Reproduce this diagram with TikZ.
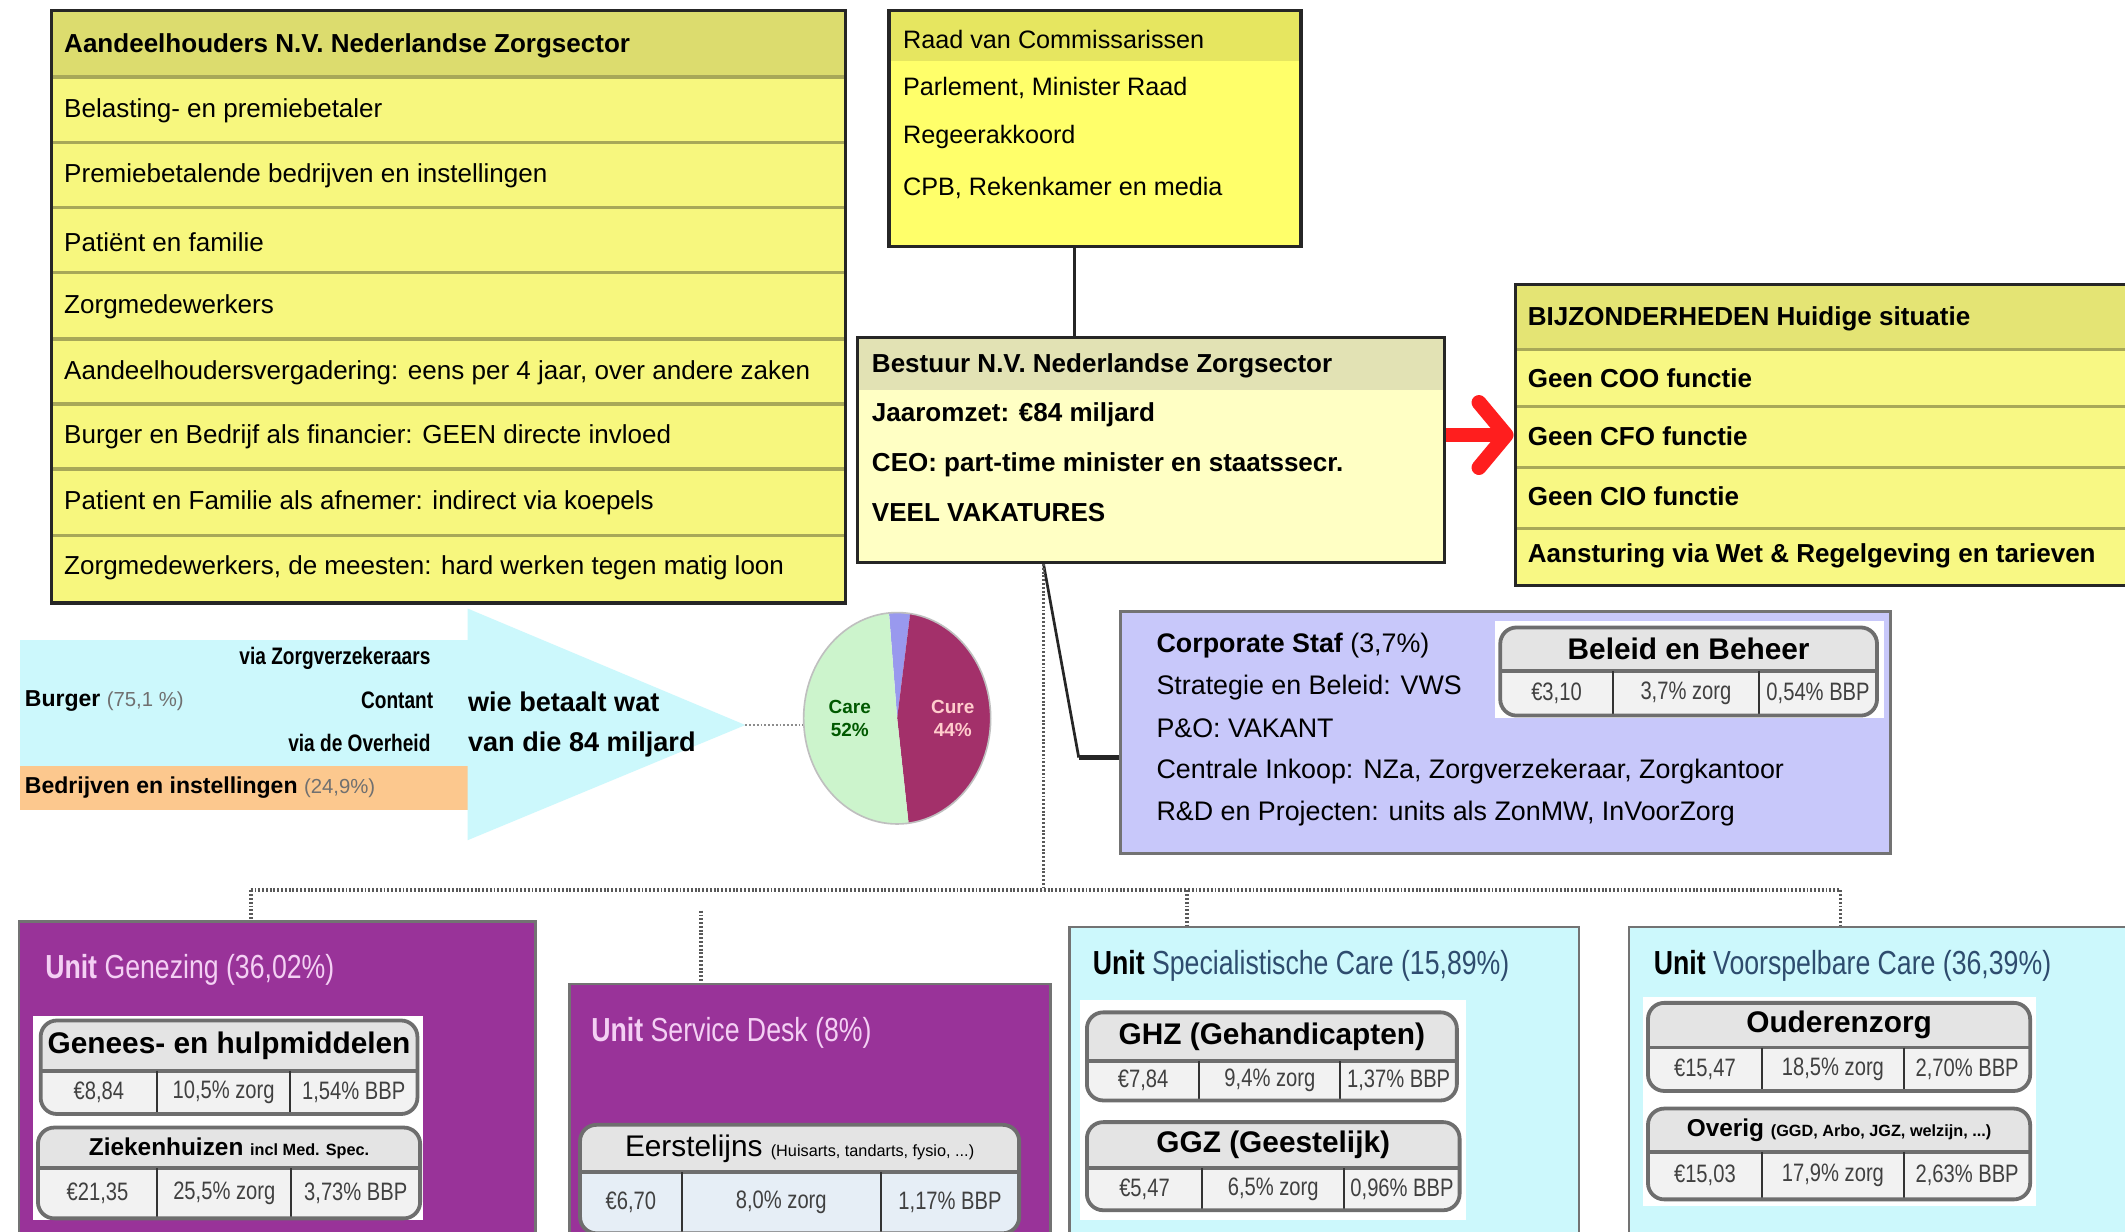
\documentclass[tikz,border=0pt]{standalone}
\usepackage{fontspec}
\setmainfont{Liberation Sans}
\newfontfamily\condfont{Liberation Sans}[FakeStretch=0.8]
\usetikzlibrary{arrows.meta,fit}
\definecolor{rowyel}{HTML}{F7F77E}
\definecolor{headyel}{HTML}{DCDC6E}
\definecolor{raadyel}{HTML}{FFFF6A}
\definecolor{raadhead}{HTML}{E6E660}
\definecolor{bestyel}{HTML}{FFFFC4}
\definecolor{besthead}{HTML}{E2E2B4}
\definecolor{bijyel}{HTML}{F8F884}
\definecolor{bijhead}{HTML}{E4E474}
\definecolor{sepcol}{HTML}{A8A858}
\definecolor{lav}{HTML}{C8C8FA}
\definecolor{purp}{HTML}{993399}
\definecolor{cyanl}{HTML}{CCF8FC}
\definecolor{orng}{HTML}{FCC88E}
\definecolor{caregreen}{HTML}{CCF4CC}
\definecolor{curered}{HTML}{A3306A}
\definecolor{slicecol}{HTML}{9999EE}
\definecolor{pillhdc}{HTML}{E4E4E4}
\definecolor{pillvalc}{HTML}{F2F2F2}
\definecolor{sdval}{HTML}{E6EEF6}
\definecolor{pillbd}{HTML}{6E6E6E}
\definecolor{unittxt}{HTML}{F4D0F4}
\definecolor{spectxt}{HTML}{2E4C6E}
\definecolor{redarrow}{HTML}{FF1E1E}
\definecolor{graytxt}{HTML}{707070}

\newcommand\pill[9]{%
  \fill[pillval, rounded corners=6pt] (#2,#3) rectangle (#4,#5);
  \begin{scope}
    \clip[rounded corners=6pt] (#2,#3) rectangle (#4,#5);
    \fill[pillhdc] (#2,#3) rectangle (#4,#6);
  \end{scope}
  \draw[pillhdiv] (#2,#6) -- (#4,#6);
  \draw[pilldiv] (#7,#6) -- (#7,#5);
  \draw[pilldiv] (#8,#6) -- (#8,#5);
  \node[pillframe, fit={(#2,#3)(#4,#5)}] (#1) {};
  \node[pilltitle] (#1-t) at ({(#2+#4)/2},{(#3+#6)/2}) {#9};
  \coordinate (#1-c1) at ({(#2+#7)/2},{(#6+#5)/2});
  \coordinate (#1-c2) at ({(#7+#8)/2},{(#6+#5)/2});
  \coordinate (#1-c3) at ({(#8+#4)/2},{(#6+#5)/2});
}
\newcommand\pillvals[4]{%
  \node[pillv] (#1-v1) at (#1-c1) {#2};
  \node[pillv] (#1-v2) at (#1-c2) {#3};
  \node[pillv] (#1-v3) at (#1-c3) {#4};
}

\begin{document}
\begin{tikzpicture}[x=0.5pt,y=-0.5pt,
  tbox/.style={draw=black!85, line width=1.2pt, inner sep=0pt},
  unitbox/.style={draw=black!55, line width=1pt, inner sep=0pt},
  rowsep/.style={draw=sepcol, line width=1.3pt},
  rowtxt/.style={anchor=west, inner sep=0pt, font=\fontsize{9.6}{12}\selectfont},
  rowbold/.style={anchor=west, inner sep=0pt, font=\fontsize{9.6}{12}\selectfont\bfseries},
  raadtxt/.style={anchor=west, inner sep=0pt, font=\fontsize{9.3}{12}\selectfont},
  corptxt/.style={anchor=west, inner sep=0pt, font=\fontsize{9.9}{12}\selectfont},
  unittitle/.style={anchor=west, inner sep=0pt, font=\condfont\fontsize{12.3}{14}\selectfont},
  pillval/.style={fill=pillvalc},
  pillhdiv/.style={draw=pillbd, line width=1.4pt},
  pilldiv/.style={draw=black!80, line width=0.8pt},
  pillframe/.style={draw=pillbd, line width=1.4pt, rounded corners=6pt, inner sep=0pt},
  pilltitle/.style={inner sep=0pt, font=\fontsize{11}{13}\selectfont\bfseries},
  pillv/.style={inner sep=0pt, text=black!75, font=\condfont\fontsize{9.3}{10}\selectfont},
  conn/.style={draw=black!85, line width=1pt},
  dots/.style={draw=black!65, line width=1.4pt, dash pattern=on 0.7pt off 0.7pt},
  redarr/.style={draw=redarrow, line width=5.5pt, -{Straight Barb[length=10pt, width=24pt, line cap=round, line join=round]}},
  flowsm/.style={anchor=east, inner sep=0pt, font=\condfont\fontsize{8.8}{9}\selectfont\bfseries},
  flowbig/.style={anchor=west, inner sep=0pt, font=\fontsize{10}{12}\selectfont\bfseries},
  pielbl/.style={align=center, inner sep=0pt, font=\fontsize{7}{8.5}\selectfont\bfseries}
]
\useasboundingbox (0,0) rectangle (1568,909);
\fill[white] (0,0) rectangle (1568,909);

% ---------- Aandeelhouders ----------
\fill[rowyel] (38,8) rectangle (624,445);
\fill[headyel] (38,8) rectangle (624,57);
\foreach \yy in {57,105,153,201,250,298,346,395} \draw[rowsep] (38,\yy) -- (624,\yy);
\node[tbox, fit={(38,8)(624,445)}] (aand) {};
\node[rowbold] (a0) at (47,34) {Aandeelhouders N.V. Nederlandse Zorgsector};
\node[rowtxt] (a1) at (47,82) {Belasting- en premiebetaler};
\node[rowtxt] (a2) at (47,130) {Premiebetalende bedrijven en instellingen};
\node[rowtxt] (a3) at (47,179) {Patiënt en familie};
\node[rowtxt] (a4) at (47,226) {Zorgmedewerkers};
\node[rowtxt] (a5) at (47,275) {Aandeelhoudersvergadering: eens per 4 jaar, over andere zaken};
\node[rowtxt] (a6) at (47,322) {Burger en Bedrijf als financier: GEEN directe invloed};
\node[rowtxt] (a7) at (47,371) {Patient en Familie als afnemer: indirect via koepels};
\node[rowtxt] (a8) at (47,419) {Zorgmedewerkers, de meesten: hard werken tegen matig loon};

% ---------- Raad ----------
\fill[raadyel] (656,8) rectangle (960,182);
\fill[raadhead] (656,8) rectangle (960,45);
\node[tbox, fit={(656,8)(960,182)}] (raad) {};
\node[raadtxt] (r1) at (666,29) {Raad van Commissarissen};
\node[raadtxt] (r2) at (666,65) {Parlement, Minister Raad};
\node[raadtxt] (r3) at (666,101) {Regeerakkoord};
\node[raadtxt] (r4) at (666,139) {CPB, Rekenkamer en media};

% ---------- Bestuur ----------
\fill[bestyel] (633,249) rectangle (1066,415);
\fill[besthead] (633,249) rectangle (1066,288);
\node[tbox, fit={(633,249)(1066,415)}] (best) {};
\node[rowbold] (b1) at (643,270) {Bestuur N.V. Nederlandse Zorgsector};
\node[rowbold] (b2) at (643,306) {Jaaromzet: €84 miljard};
\node[rowbold] (b3) at (643,343) {CEO: part-time minister en staatssecr.};
\node[rowbold] (b4) at (643,378) {VEEL VAKATURES};

% ---------- Bijzonderheden ----------
\fill[bijyel] (1118,210) rectangle (1580,432);
\fill[bijhead] (1118,210) rectangle (1580,258);
\foreach \yy in {258,300,345,390} \draw[rowsep] (1118,\yy) -- (1580,\yy);
\node[tbox, fit={(1118,210)(1580,432)}] (bij) {};
\node[rowbold] (j0) at (1127,235) {BIJZONDERHEDEN Huidige situatie};
\node[rowbold] (j1) at (1127,279) {Geen COO functie};
\node[rowbold] (j2) at (1127,322) {Geen CFO functie};
\node[rowbold] (j3) at (1127,366) {Geen CIO functie};
\node[rowbold] (j4) at (1127,410) {Aansturing via Wet \& Regelgeving en tarieven};

% ---------- Corporate Staf ----------
\node[unitbox, fill=lav, fit={(827,451)(1395,630)}] (corp) {};
\fill[white] (1103,458) rectangle (1390,530);
\pill{bb}{1107}{463}{1385}{528}{495}{1190}{1298}{Beleid en Beheer}
\pillvals{bb}{€3,10}{3,7\% zorg}{0,54\% BBP}
\node[corptxt] (c1) at (853,476) {\bfseries Corporate Staf \mdseries (3,7\%)};
\node[corptxt] (c2) at (853,507) {Strategie en Beleid: VWS};
\node[corptxt] (c3) at (853,537) {P\&O: VAKANT};
\node[corptxt] (c4) at (853,569) {Centrale Inkoop: NZa, Zorgverzekeraar, Zorgkantoor};
\node[corptxt] (c5) at (853,600) {R\&D en Projecten: units als ZonMW, InVoorZorg};

% ---------- flow arrow ----------
\fill[cyanl] (15,472) rectangle (345,565);
\fill[orng] (15,565) rectangle (345,598);
\fill[cyanl] (345,449) -- (550,535) -- (345,620) -- cycle;
\node[flowsm] (f1) at (318,486) {via Zorgverzekeraars};
\node[flowsm] (f2) at (320,517) {Contant};
\node[flowsm] (f3) at (318,548) {via de Overheid};
\node[anchor=west, inner sep=0pt, font=\fontsize{8.5}{10}\selectfont] (f4) at (18,517) {\bfseries Burger \mdseries\color{graytxt}\fontsize{7.5}{9}\selectfont (75,1 \%)};
\node[anchor=west, inner sep=0pt, font=\fontsize{8.5}{10}\selectfont] (f5) at (18,581) {\bfseries Bedrijven en instellingen \mdseries\color{graytxt}\fontsize{7.5}{9}\selectfont (24,9\%)};
\node[flowbig] (f6) at (345,518) {wie betaalt wat};
\node[flowbig] (f7) at (345,549) {van die 84 miljard};
\coordinate (apex) at (550,535);
\coordinate (piew) at (593,535);
\draw[dots, line width=1pt, draw=black!45] (apex) -- (piew);

% ---------- pie ----------
\fill[slicecol] (662,530) -- +(-95:69 and 78) arc[start angle=-95, end angle=-82, x radius=69, y radius=78] -- cycle;
\fill[curered] (662,530) -- +(-82:69 and 78) arc[start angle=-82, end angle=83, x radius=69, y radius=78] -- cycle;
\fill[caregreen] (662,530) -- +(83:69 and 78) arc[start angle=83, end angle=265, x radius=69, y radius=78] -- cycle;
\draw[black!25, line width=0.6pt] (662,530) ellipse [x radius=69, y radius=78];
\node[pielbl, text=green!35!black] (care) at (627,530) {Care\\52\%};
\node[pielbl, text=pink!80!white] (cure) at (703,530) {Cure\\44\%};

% ---------- Unit Genezing ----------
\node[unitbox, fill=purp, fit={(14,680)(395,920)}] (gen) {};
\fill[white] (24,750) rectangle (312,900);
\node[unittitle, text=unittxt] (gent) at (33,716) {\bfseries Unit \mdseries Genezing (36,02\%)};
\pill{gh}{30}{753}{308}{822}{790}{116}{214}{Genees- en hulpmiddelen}
\pillvals{gh}{€8,84}{10,5\% zorg}{1,54\% BBP}
\pill{zh}{28}{832}{310}{899}{862}{116}{215}{\fontsize{9}{11}\selectfont Ziekenhuizen {\fontsize{6}{7}\selectfont incl Med. Spec.}}
\pillvals{zh}{€21,35}{25,5\% zorg}{3,73\% BBP}

% ---------- Unit Service Desk ----------
\node[unitbox, fill=purp, fit={(420,726)(775,920)}] (sd) {};
\node[unittitle, text=unittxt] (sdt) at (436,762) {\bfseries Unit \mdseries Service Desk (8\%)};
\begin{scope}[pillval/.style={fill=sdval}]
\pill{ee}{428}{830}{752}{910}{865}{503}{650}{\mdseries Eerstelijns {\fontsize{6}{7}\selectfont (Huisarts, tandarts, fysio, ...)}}
\end{scope}
\pillvals{ee}{€6,70}{8,0\% zorg}{1,17\% BBP}

% ---------- Unit Specialistische Care ----------
\node[unitbox, fill=cyanl, fit={(789,684)(1165,920)}] (spec) {};
\fill[white] (797,738) rectangle (1082,900);
\node[unittitle, text=spectxt] (spect) at (806,713) {{\color{black}\bfseries Unit} Specialistische Care (15,89\%)};
\pill{ghz}{802}{747}{1075}{812}{783}{885}{989}{GHZ (Gehandicapten)}
\pillvals{ghz}{€7,84}{9,4\% zorg}{1,37\% BBP}
\pill{ggz}{802}{828}{1077}{893}{862}{887}{992}{GGZ (Geestelijk)}
\pillvals{ggz}{€5,47}{6,5\% zorg}{0,96\% BBP}

% ---------- Unit Voorspelbare Care ----------
\node[unitbox, fill=cyanl, fit={(1202,684)(1580,920)}] (voor) {};
\fill[white] (1212,736) rectangle (1502,890);
\node[unittitle, text=spectxt] (voort) at (1220,713) {{\color{black}\bfseries Unit} Voorspelbare Care (36,39\%)};
\pill{oz}{1216}{740}{1498}{805}{773}{1300}{1405}{Ouderenzorg}
\pillvals{oz}{€15,47}{18,5\% zorg}{2,70\% BBP}
\pill{ov}{1216}{818}{1498}{885}{850}{1300}{1405}{\fontsize{9}{11}\selectfont Overig {\fontsize{6}{7}\selectfont (GGD, Arbo, JGZ, welzijn, ...)}}
\pillvals{ov}{€15,03}{17,9\% zorg}{2,63\% BBP}

% ---------- connectors ----------
\draw[conn] ([xshift=-7.5pt]raad.south) -- ([xshift=-7.5pt]raad.south |- best.north);
\draw[redarr] (best.east |- bij.west) -- (bij.west);
\coordinate (bs) at ([xshift=-39.75pt]best.south);
\coordinate (bk) at (796,559);
\draw[conn] (bs) -- (bk);
\draw[conn, line width=2pt] (bk) -- (bk -| corp.west);
\coordinate (hub) at (770,657);
\coordinate (hl) at (185,657);
\coordinate (hr) at (1358,657);
\coordinate (hs) at (876,657);
\coordinate (sdtop) at (517,672);
\draw[dots] (bs) -- (hub);
\draw[dots] (hl) -- (hr);
\draw[dots] (hl) -- (hl |- gen.north);
\draw[dots] (sdtop) -- (sdtop |- sd.north);
\draw[dots] (hs) -- (hs |- spec.north);
\draw[dots] (hr) -- (hr |- voor.north);
\end{tikzpicture}
\end{document}
